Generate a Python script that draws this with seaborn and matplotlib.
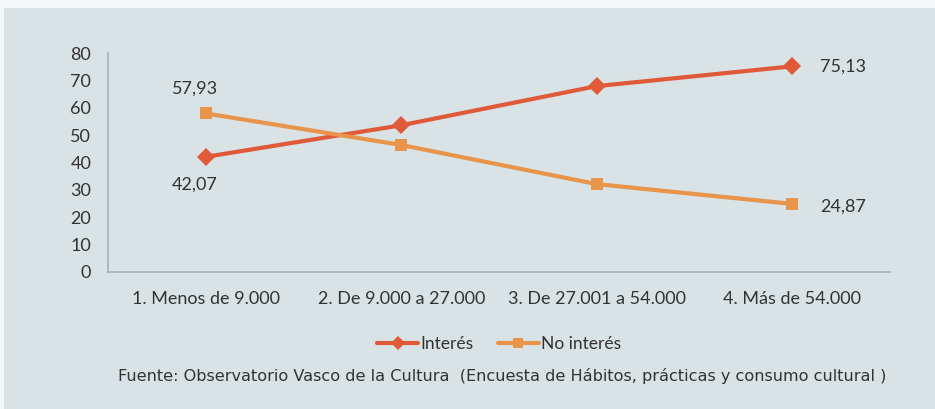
import matplotlib
matplotlib.use("Agg")
import matplotlib.pyplot as plt
import seaborn as sns
import pandas as pd
from matplotlib.patches import Rectangle

# datos
categorias = ["1. Menos de 9.000", "2. De 9.000 a 27.000", "3. De 27.001 a 54.000", "4. Más de 54.000"]
interes = [42.07, 53.6, 67.9, 75.13]
no_interes = [57.93, 46.4, 32.1, 24.87]
series = ["Interés", "No interés"]

df = pd.DataFrame({
    "cat": categorias * 2,
    "valor": interes + no_interes,
    "serie": [series[0]] * 4 + [series[1]] * 4,
})

sns.set_style("white")
plt.rcParams["font.family"] = ["Lato", "DejaVu Sans"]

bg = "#d9e2e4"
borde = "#f4f7f7"
fig = plt.figure(figsize=(9.35, 4.09), dpi=100, facecolor=bg)
# franjas claras arriba e izquierda
fig.patches.append(Rectangle((0, 1 - 8 / 409), 1, 8 / 409, transform=fig.transFigure,
                             facecolor=borde, edgecolor="none", zorder=-1))
fig.patches.append(Rectangle((0, 0), 4 / 935, 1, transform=fig.transFigure,
                             facecolor=borde, edgecolor="none", zorder=-1))
ax = fig.add_axes([108 / 935, 1 - 272 / 409, (890 - 108) / 935, (272 - 53) / 409])
ax.set_facecolor(bg)

colores = {"Interés": "#e05a3a", "No interés": "#e8944a"}
sns.lineplot(data=df, x="cat", y="valor", hue="serie", style="serie",
             markers={"Interés": "D", "No interés": "s"}, dashes=False,
             palette=colores, linewidth=3, markersize=9, markeredgewidth=0,
             ax=ax, sort=False)

ax.set_xlim(-0.5, 3.5)
ax.set_ylim(0, 80)
ax.set_yticks(range(0, 81, 10))
ax.set_xlabel("")
ax.set_ylabel("")
ax.tick_params(axis="both", length=0, labelsize=13, colors="#333333")
ax.tick_params(axis="x", pad=14)
ax.tick_params(axis="y", pad=12)
for s in ["top", "right"]:
    ax.spines[s].set_visible(False)
for s in ["left", "bottom"]:
    ax.spines[s].set_color("#a7afb1")
    ax.spines[s].set_linewidth(1.2)

def fmt(v):
    return f"{v:.2f}".replace(".", ",")

ax.annotate(fmt(no_interes[0]), (0, no_interes[0]), xytext=(-8, 18), textcoords="offset points",
            ha="center", va="center", fontsize=13, color="#333333")
ax.annotate(fmt(interes[0]), (0, interes[0]), xytext=(-8, -20), textcoords="offset points",
            ha="center", va="center", fontsize=13, color="#333333")
ax.annotate(fmt(interes[3]), (3, interes[3]), xytext=(20, 0), textcoords="offset points",
            ha="left", va="center", fontsize=13, color="#333333")
ax.annotate(fmt(no_interes[3]), (3, no_interes[3]), xytext=(20, -2), textcoords="offset points",
            ha="left", va="center", fontsize=13, color="#333333")

leg = ax.legend(loc="center", bbox_to_anchor=(0.5, -0.33), ncol=2, frameon=False,
                fontsize=12.5, handlelength=2.4, handletextpad=0.1, columnspacing=1.4,
                markerscale=0.75)
for t in leg.get_texts():
    t.set_color("#333333")

fig.text(118 / 935, 1 - 376 / 409, "Fuente: Observatorio Vasco de la Cultura  (Encuesta de Hábitos, prácticas y consumo cultural )",
         fontsize=11.6, color="#333333", va="center", ha="left", family=["DejaVu Sans"])

fig.savefig("out.png", dpi=100, facecolor=fig.get_facecolor())
